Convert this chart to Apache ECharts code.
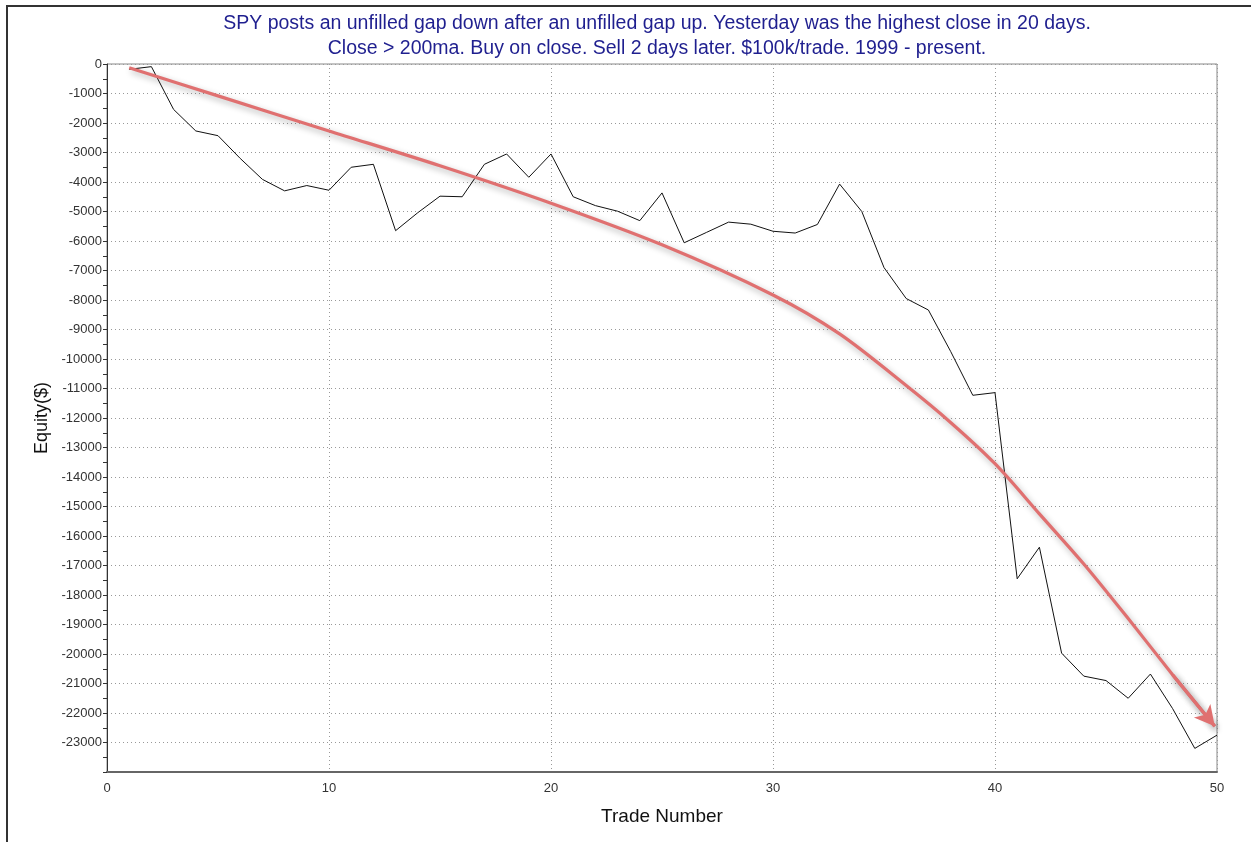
<!DOCTYPE html>
<html>
<head>
<meta charset="utf-8">
<script src="https://cdn.jsdelivr.net/npm/echarts@6/dist/echarts.min.js"></script>
<style>
html,body{margin:0;padding:0;background:#fff;}
#frame{position:absolute;left:6px;top:5px;width:1245px;height:837px;border-left:2px solid #333;border-top:2px solid #333;box-sizing:border-box;}
#chart{position:absolute;left:0;top:0;width:1251px;height:842px;}
</style>
</head>
<body>
<div id="frame"></div>
<div id="chart"></div>
<script>
// Trade number (1..50) and cumulative equity ($)
const tradeNumbers = [1,2,3,4,5,6,7,8,9,10,11,12,13,14,15,16,17,18,19,20,21,22,23,24,25,26,27,28,29,30,31,32,33,34,35,36,37,38,39,40,41,42,43,44,45,46,47,48,49,50];
const equity = [-180,-90,-1540,-2270,-2430,-3200,-3910,-4300,-4120,-4280,-3500,-3400,-5650,-5040,-4480,-4500,-3400,-3050,-3840,-3050,
  -4500,-4800,-4990,-5310,-4370,-6060,-5710,-5360,-5430,-5670,-5730,-5440,-4070,-5000,-6900,-7950,-8340,-9740,-11230,-11140,
  -17450,-16380,-19970,-20750,-20900,-21500,-20680,-21850,-23200,-22750];
// Red trend annotation (hand-drawn arrow) points
const arrowX = [1.0, 5, 10, 15, 20, 25, 30, 33, 36, 38, 40, 42, 44, 46, 48, 49.9];
const arrowY = [-130, -1080, -2270, -3450, -4720, -6130, -7830, -9150, -10900, -12150, -13550, -15250, -16950, -18800, -20700, -22450];
// Axis ticks
const yMin = -24000, yMax = 0, yStep = 1000;
const xMin = 0, xMax = 50, xStep = 10;

const chart = echarts.init(document.getElementById('chart'), null, {renderer:'canvas'});
const font = '"Liberation Sans", Arial, sans-serif';
const n = arrowX.length;
const option = {
  animation:false,
  backgroundColor:'transparent',
  title:{
    text:'SPY posts an unfilled gap down after an unfilled gap up. Yesterday was the highest close in 20 days.\nClose > 200ma. Buy on close. Sell 2 days later. $100k/trade. 1999 - present.',
    left:652, top:6,
    textAlign:'center',
    textStyle:{color:'#1f1f8f', fontFamily:font, fontSize:19.5, fontWeight:'normal', lineHeight:25, align:'center'}
  },
  grid:{left:107, right:34, top:64, bottom:70, show:true, borderColor:'#888', borderWidth:1, backgroundColor:'#fff'},
  xAxis:{
    type:'value', min:xMin, max:xMax, interval:xStep,
    name:'Trade Number', nameLocation:'middle', nameGap:35,
    nameTextStyle:{color:'#111', fontFamily:font, fontSize:19},
    axisLine:{show:true, onZero:false, lineStyle:{color:'#666', width:2}},
    axisTick:{show:false},
    minorTick:{show:false},
    axisLabel:{color:'#333', fontFamily:font, fontSize:13, margin:10},
    splitLine:{show:true, lineStyle:{color:'#999', type:[1,3], width:1}}
  },
  yAxis:{
    type:'value', min:yMin, max:yMax, interval:yStep,
    name:'Equity($)', nameLocation:'middle', nameGap:56, nameRotate:90,
    nameTextStyle:{color:'#111', fontFamily:font, fontSize:18},
    axisLine:{show:true, onZero:false, lineStyle:{color:'#333', width:1}},
    axisTick:{show:true, inside:false, length:4, lineStyle:{color:'#333'}},
    minorTick:{show:true, splitNumber:2, length:4, lineStyle:{color:'#333'}},
    axisLabel:{color:'#333', fontFamily:font, fontSize:13, margin:5,
      formatter:function(v){return v===yMin?'':String(v);}},
    splitLine:{show:true, lineStyle:{color:'#999', type:[1,3], width:1}}
  },
  series:[
    {
      type:'line', name:'Equity',
      data:tradeNumbers.map((t,i)=>[t, equity[i]]),
      symbol:'none',
      lineStyle:{color:'#111', width:1},
      z:3
    },
    {
      type:'line', name:'Trend',
      data:arrowX.map((x,i)=>[x, arrowY[i]]),
      symbol:'none', smooth:0.3,
      lineStyle:{color:'#e07070', width:3.2, shadowBlur:6, shadowColor:'rgba(0,0,0,0.3)', shadowOffsetX:2, shadowOffsetY:3},
      markLine:{
        silent:true, animation:false,
        symbol:['none','arrow'], symbolSize:[16,20],
        label:{show:false},
        lineStyle:{color:'#e07070', width:3.2, type:'solid', shadowBlur:6, shadowColor:'rgba(0,0,0,0.3)', shadowOffsetX:2, shadowOffsetY:3},
        data:[[{coord:[arrowX[n-2], arrowY[n-2]]},{coord:[arrowX[n-1], arrowY[n-1]]}]]
      },
      z:4
    }
  ]
};
chart.setOption(option);
</script>
</body>
</html>
